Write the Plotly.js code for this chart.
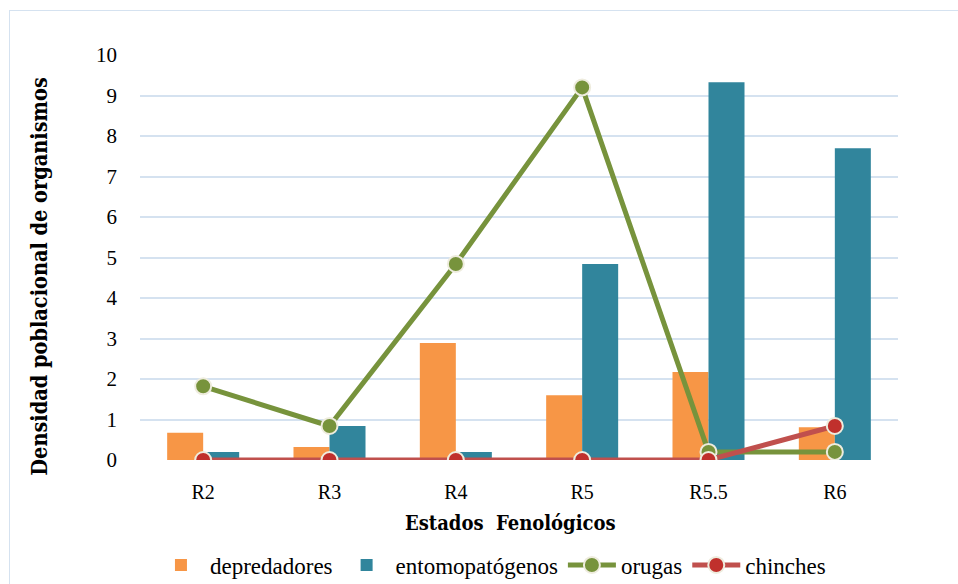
<!DOCTYPE html>
<html><head><meta charset="utf-8">
<script src="https://cdn.plot.ly/plotly-3.0.1.min.js"></script>
<style>
body{margin:0;background:#fff;}
#frame{position:absolute;left:9px;top:10px;width:1000px;height:600px;border:1px solid #d5e2f0;box-sizing:border-box;}
#chart{position:absolute;left:0;top:0;width:958px;height:584px;}
</style></head>
<body>
<div id="frame"></div>
<div id="chart"></div>
<script>
const categories = ["R2","R3","R4","R5","R5.5","R6"];
const depredadores = [0.67,0.32,2.89,1.6,2.17,0.81];
const entomopatogenos = [0.2,0.84,0.2,4.84,9.33,7.7];
const orugas = [1.82,0.84,4.84,9.2,0.2,0.2];
const chinches = [0,0,0,0,0,0.84];
const yTicks = [0,1,2,3,4,5,6,7,8,9,10];
const xTitle = 'Estados  Fenológicos';
const yTitle = 'Densidad poblacional de organismos';

const serif = "Liberation Serif, DejaVu Serif, serif";
const titleFont = "DejaVu Serif Condensed, DejaVu Serif, serif";
const traces = [
 {type:'bar', name:'depredadores', x:categories, y:depredadores, marker:{color:'#f79646'}},
 {type:'bar', name:'entomopatógenos', x:categories, y:entomopatogenos, marker:{color:'#31859c'}},
 {type:'scatter', mode:'lines+markers', name:'orugas', x:categories, y:orugas,
  line:{color:'#77933c', width:5}, marker:{size:16, color:'#77933c', line:{color:'#eeecde', width:2}}},
 {type:'scatter', mode:'lines+markers', name:'chinches', x:categories, y:chinches,
  line:{color:'#c0504d', width:5}, marker:{size:16, color:'#c0302c', line:{color:'#eeecde', width:2}}}
];
const layout = {
 width:958, height:584,
 paper_bgcolor:'rgba(0,0,0,0)', plot_bgcolor:'rgba(0,0,0,0)',
 margin:{l:140, r:60, t:55, b:124},
 barmode:'group', bargap:0.43, bargroupgap:0,
 font:{family:serif, color:'#000', size:20},
 xaxis:{type:'category', tickfont:{size:20}, showgrid:false, zeroline:false, ticks:'',
   automargin:false, ticklabelstandoff:18},
 yaxis:{range:[0,10], tickvals:yTicks, tickfont:{size:21}, gridcolor:'#d5e2f0', gridwidth:1.5,
   zeroline:false, ticks:'', ticklabelstandoff:22, automargin:false},
 annotations:[
  {text:'<b>'+xTitle+'</b>', xref:'paper', yref:'paper', x:0.489, y:-0.156, xanchor:'center', yanchor:'middle',
   showarrow:false, font:{family:titleFont, size:20}},
  {text:'<b>'+yTitle+'</b>', xref:'paper', yref:'paper', x:-0.132, y:0.455, xanchor:'center', yanchor:'middle',
   textangle:-90, showarrow:false, font:{family:titleFont, size:21.5}}
 ],
 showlegend:true,
 legend:{orientation:'h', xref:'container', yref:'container', x:0.513, xanchor:'center', y:0.0325, yanchor:'middle',
   font:{size:23}, traceorder:'normal', itemwidth:48}
};
Plotly.newPlot('chart', traces, layout, {displayModeBar:false});
</script>
</body></html>
